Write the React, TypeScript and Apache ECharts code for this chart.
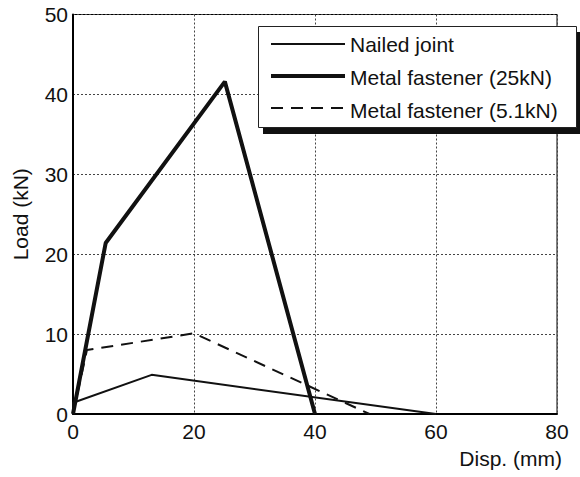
import React, { useEffect, useRef } from "react";
import * as echarts from "echarts";

const seriesNames = ["Nailed joint", "Metal fastener (25kN)", "Metal fastener (5.1kN)"];
const nailedJoint: [number, number][] = [[0, 0], [0, 1.4], [13, 4.9], [60, 0]];
const metal25: [number, number][] = [[0, 0], [5.4, 21.4], [25.1, 41.6], [40, 0]];
const metal51: [number, number][] = [[0, 0], [2.3, 8.0], [20, 10.1], [49, 0]];
const xTicks = { min: 0, max: 80, interval: 20 };
const yTicks = { min: 0, max: 50, interval: 10 };
const xName = "Disp. (mm)";
const yName = "Load (kN)";

const FONT = "'Liberation Sans', Arial, Helvetica, sans-serif";
const FS = 21;
const lineWidths = [2, 4, 2];
const lineDashes: any[] = ["solid", "solid", [12, 8]];

export default function App() {
  const ref = useRef<HTMLDivElement>(null);
  useEffect(() => {
    if (!ref.current) return;
    const chart = echarts.init(ref.current, null, { renderer: "svg" });
    const grid = { left: 73, right: 23, top: 14.5, bottom: 63 };
    const legendLeft = 271;
    const legendTop = 34;
    const rowH = 32;
    const legendIcons = seriesNames.map((_, i) => ({
      type: "line",
      z: 103,
      shape: { x1: legendLeft, y1: legendTop + 10 + i * rowH, x2: legendLeft + 74, y2: legendTop + 10 + i * rowH },
      style: {
        stroke: "#111",
        lineWidth: lineWidths[i],
        lineDash: Array.isArray(lineDashes[i]) ? lineDashes[i] : null,
      },
    }));
    chart.setOption({
      animation: false,
      backgroundColor: "#fff",
      textStyle: { fontFamily: FONT },
      grid: {
        ...grid,
        show: true,
        borderColor: "#000",
        borderWidth: 1,
        backgroundColor: "transparent",
        containLabel: false,
        outerBoundsMode: "none",
      },
      xAxis: {
        type: "value",
        min: xTicks.min,
        max: xTicks.max,
        interval: xTicks.interval,
        axisLine: { show: true, lineStyle: { color: "#000", width: 2 } },
        axisTick: { show: false },
        axisLabel: { color: "#111", fontSize: FS, margin: 7, fontFamily: FONT },
        splitLine: { show: true, lineStyle: { color: "#444", width: 1, type: [2, 2] } },
      },
      yAxis: {
        type: "value",
        min: yTicks.min,
        max: yTicks.max,
        interval: yTicks.interval,
        name: yName,
        nameLocation: "middle",
        nameGap: 42,
        nameTextStyle: { color: "#111", fontSize: FS, fontFamily: FONT },
        axisLine: { show: true, lineStyle: { color: "#000", width: 2 } },
        axisTick: { show: false },
        axisLabel: { color: "#111", fontSize: FS, margin: 5, fontFamily: FONT },
        splitLine: { show: true, lineStyle: { color: "#444", width: 1, type: [2, 2] } },
      },
      graphic: [
        { type: "rect", shape: { x: 263, y: 32, width: 318, height: 102 }, style: { fill: "#111" }, z: 100 },
        { type: "rect", shape: { x: 258.5, y: 26.5, width: 318, height: 101 }, style: { fill: "#fff", stroke: "#222", lineWidth: 1 }, z: 101 },
        ...legendIcons,
        {
          type: "text",
          right: 18,
          top: 448,
          style: { text: xName, fill: "#111", font: `${FS}px ${FONT}`, textAlign: "right" },
        },
      ],
      legend: {
        show: true,
        orient: "vertical",
        left: legendLeft,
        top: legendTop,
        padding: 0,
        itemWidth: 74,
        itemHeight: 20,
        itemGap: 12,
        icon: "none" as any,
        z: 102,
        data: seriesNames,
        textStyle: { color: "#111", fontSize: FS, fontFamily: FONT },
      },
      series: seriesNames.map((name, i) => ({
        name,
        type: "line",
        data: [nailedJoint, metal25, metal51][i],
        symbol: "none",
        lineStyle: { color: "#111", width: lineWidths[i], type: lineDashes[i] },
        itemStyle: { color: "#111" },
      })),
    });
    return () => chart.dispose();
  }, []);
  return <div ref={ref} style={{ width: 580, height: 477, position: "absolute", left: 0, top: 0 }} />;
}
